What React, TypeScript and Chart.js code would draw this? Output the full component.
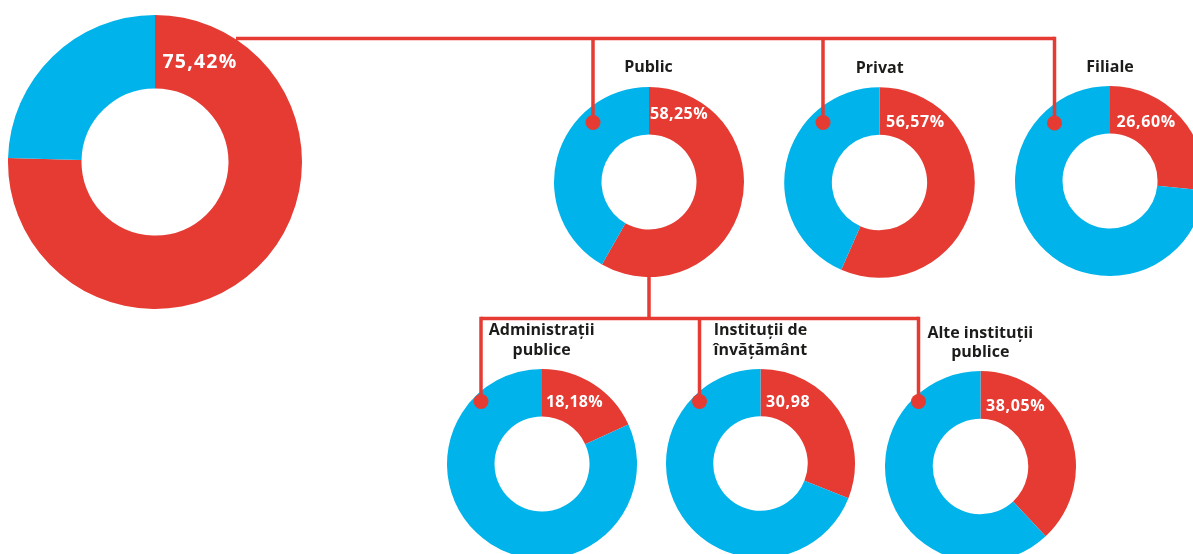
import React, { useEffect, useRef } from "react";
import { Chart, registerables } from "chart.js";

Chart.register(...registerables);

// ---- data ----
const categories = [
  "Total",
  "Public",
  "Privat",
  "Filiale",
  "Administrații publice",
  "Instituții de învățământ",
  "Alte instituții publice",
];
const redValues = [75.42, 58.25, 56.57, 26.6, 18.18, 30.98, 38.05];
const blueValues = [24.58, 41.75, 43.43, 73.4, 81.82, 69.02, 61.95];
const valueLabels = ["75,42%", "58,25%", "56,57%", "26,60%", "18,18%", "30,98", "38,05%"];
const titleLines = [
  [],
  ["Public"],
  ["Privat"],
  ["Filiale"],
  ["Administrații", "publice"],
  ["Instituții de", "învățământ"],
  ["Alte instituții", "publice"],
];

// ---- layout / style ----
const RED = "#E53B33";
const BLUE = "#00B3EA";
const TEXT = "#1c1c1a";

const geo = [
  { cx: 155, cy: 161.5, r: 147, lx: 162.5, ly: 61, fs: 19.5, ls: 1.2 },
  { cx: 649, cy: 181.7, r: 95, lx: 650, ly: 113.3, fs: 16, ls: 0.4, tx: 648.5, ty: 66 },
  { cx: 879.5, cy: 182.2, r: 95.3, lx: 886, ly: 121, fs: 16, ls: 0.5, tx: 879.7, ty: 66.5 },
  { cx: 1110, cy: 181.2, r: 95, lx: 1116.5, ly: 121, fs: 16, ls: 0.6, tx: 1110, ty: 66 },
  { cx: 541.6, cy: 463.5, r: 95, lx: 546, ly: 400.7, fs: 16, ls: 0.2, tx: 541.7, ty: 329.3 },
  { cx: 760.6, cy: 463.3, r: 94.5, lx: 766, ly: 400.7, fs: 16, ls: 0.6, tx: 760.4, ty: 329 },
  { cx: 980, cy: 466, r: 95.5, lx: 986, ly: 405, fs: 16, ls: 0.6, tx: 980.3, ty: 331.7 },
];

function Donut({ index }: { index: number }) {
  const ref = useRef<HTMLCanvasElement | null>(null);
  const g = geo[index];
  const size = Math.ceil(g.r * 2 + 2);
  useEffect(() => {
    if (!ref.current) return;
    const chart = new Chart(ref.current, {
      type: "doughnut",
      data: {
        labels: ["Red", "Blue"],
        datasets: [
          {
            label: categories[index],
            data: [redValues[index], blueValues[index]],
            backgroundColor: [RED, BLUE],
            borderWidth: 0,
          },
        ],
      },
      options: {
        animation: false,
        responsive: false,
        maintainAspectRatio: false,
        devicePixelRatio: 1,
        events: [],
        cutout: "50%",
        radius: g.r,
        layout: { padding: 0 },
        plugins: { legend: { display: false }, tooltip: { enabled: false } },
      },
    });
    return () => chart.destroy();
  }, [index]);
  return (
    <canvas
      ref={ref}
      width={size}
      height={size}
      style={{
        position: "absolute",
        left: g.cx - size / 2,
        top: g.cy - size / 2,
        width: size,
        height: size,
      }}
    />
  );
}

export default function App() {
  const lw = 3.5;
  const dotR = 7.5;
  return (
    <div
      style={{
        position: "fixed",
        left: 0,
        top: 0,
        width: 1193,
        height: 554,
        overflow: "hidden",
        background: "#fff",
        fontFamily: "'Open Sans', sans-serif",
      }}
    >
      {categories.map((_, i) => (
        <Donut key={i} index={i} />
      ))}
      <svg
        width={1193}
        height={554}
        style={{ position: "absolute", left: 0, top: 0 }}
      >
        <g stroke={RED} strokeWidth={lw} fill="none">
          <line x1={236} y1={38.5} x2={1054.5} y2={38.5} />
          <line x1={593} y1={38.5} x2={593} y2={122.5} />
          <line x1={823} y1={38.5} x2={823} y2={122.5} />
          <line x1={1054.5} y1={36.75} x2={1054.5} y2={123} />
          <line x1={649} y1={275} x2={649} y2={318.5} />
          <line x1={481} y1={318.5} x2={918.5} y2={318.5} />
          <line x1={481} y1={316.75} x2={481} y2={401.5} />
          <line x1={699.5} y1={318.5} x2={699.5} y2={401.5} />
          <line x1={918.5} y1={316.75} x2={918.5} y2={401.5} />
        </g>
        <g fill={RED}>
          <circle cx={593} cy={122.5} r={dotR} />
          <circle cx={823} cy={122.5} r={dotR} />
          <circle cx={1054.5} cy={123} r={dotR} />
          <circle cx={481} cy={401.5} r={dotR} />
          <circle cx={699.5} cy={401.5} r={dotR} />
          <circle cx={918.5} cy={401.5} r={dotR} />
        </g>
      </svg>
      {geo.map((g, i) => (
        <div
          key={"v" + i}
          style={{
            position: "absolute",
            left: g.lx,
            top: g.ly,
            transform: "translateY(-50%)",
            color: "#fff",
            fontWeight: 700,
            fontSize: g.fs,
            lineHeight: 1,
            letterSpacing: g.ls,
            whiteSpace: "nowrap",
          }}
        >
          {valueLabels[i]}
        </div>
      ))}
      {geo.map((g, i) =>
        titleLines[i].map((t, j) => (
          <div
            key={"t" + i + "_" + j}
            style={{
              position: "absolute",
              left: (g.tx as number) - 100,
              width: 200,
              top: (g.ty as number) + j * 19.5,
              transform: "translateY(-50%)",
              textAlign: "center",
              color: TEXT,
              fontWeight: 700,
              fontSize: 16,
              lineHeight: 1,
              whiteSpace: "nowrap",
            }}
          >
            {t}
          </div>
        ))
      )}
    </div>
  );
}
